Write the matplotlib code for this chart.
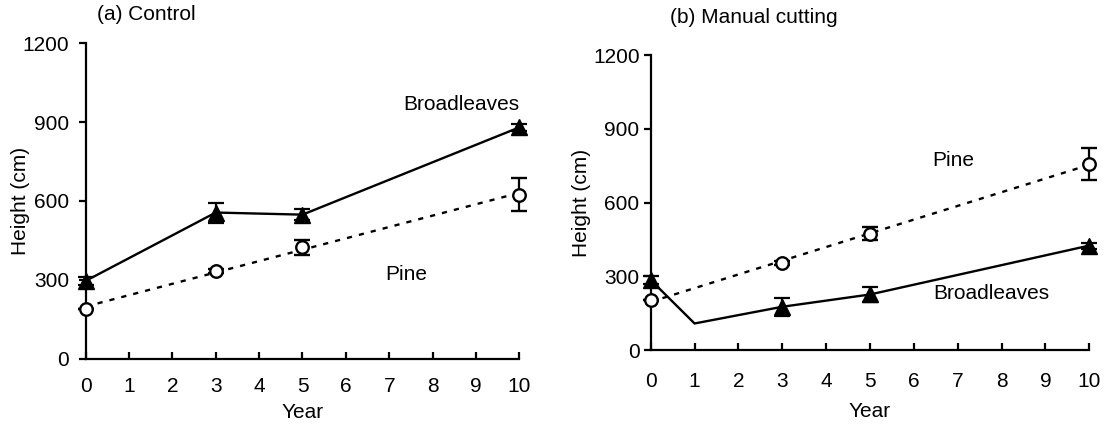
import matplotlib
matplotlib.use("Agg")
import matplotlib.pyplot as plt
import numpy as np

plt.rcParams['font.family'] = ['Liberation Sans', 'DejaVu Sans']
plt.rcParams['font.size'] = 15

# (a) Control
a_years = [0, 3, 5, 10]
a_broad = [296, 556, 548, 880]
a_broad_err = [15, 38, 22, 12]
a_pine = [189, 335, 424, 624]
a_pine_err = [0, 8, 28, 62]

# (b) Manual cutting
b_broad_years = [0, 1, 3, 5, 10]
b_broad = [285, 108, 176, 226, 425]
b_broad_err = [16, 0, 37, 30, 12]
b_pine_years = [0, 3, 5, 10]
b_pine = [203, 354, 474, 757]
b_pine_err = [0, 8, 27, 64]

xticks = list(range(11))
yticks = [0, 300, 600, 900, 1200]

fig = plt.figure(figsize=(11.04, 4.24), dpi=100)
ax_a = fig.add_axes([0.0776, 0.154, 0.3928, 0.744])
ax_b = fig.add_axes([0.5894, 0.1745, 0.3973, 0.6955])


def style_axis(ax, xpad, ypad):
    ax.set_xlim(0, 10)
    ax.set_ylim(0, 1200)
    ax.set_xticks(xticks)
    ax.set_yticks(yticks)
    for s in ['top', 'right']:
        ax.spines[s].set_visible(False)
    for s in ['left', 'bottom']:
        ax.spines[s].set_linewidth(1.6)
    ax.tick_params(axis='x', direction='in', length=5, width=1.6, pad=xpad, labelsize=15)
    ax.tick_params(axis='y', direction='out', length=5, width=1.6, pad=ypad, labelsize=15)


def draw_pine(ax, years, vals, errs):
    # dotted trend line through the pine means
    k, b = np.polyfit(years, vals, 1)
    xs = np.array([0, 10])
    ax.plot(xs, k * xs + b, color='black', lw=1.7, ls=(0, (2.2, 3)), clip_on=False, zorder=2)
    ax.errorbar(years, vals, yerr=errs, fmt='o', ms=9, mfc='white', mec='black', mew=1.7,
                ecolor='black', elinewidth=1.6, capsize=5.5, capthick=1.6, clip_on=False, zorder=3)


def draw_broad(ax, years, vals, errs, marked):
    ax.plot(years, vals, color='black', lw=1.7, clip_on=False, zorder=2)
    my = [y for y in years if y in marked]
    mv = [v for y, v in zip(years, vals) if y in marked]
    me = [e for y, e in zip(years, errs) if y in marked]
    ax.errorbar(my, mv, yerr=me, fmt='^', ms=11, mfc='black', mec='black',
                ecolor='black', elinewidth=1.6, capsize=5.5, capthick=1.6, clip_on=False, zorder=3)


# panel (a)
style_axis(ax_a, 13, 7)
draw_broad(ax_a, a_years, a_broad, a_broad_err, a_years)
draw_pine(ax_a, a_years, a_pine, a_pine_err)
ax_a.text(0.026, 1.09, '(a) Control', transform=ax_a.transAxes, ha='left', va='center')
ax_a.text(8.66, 966, 'Broadleaves', ha='center', va='center')
ax_a.text(7.4, 319, 'Pine', ha='center', va='center')
ax_a.set_ylabel('Height (cm)')
ax_a.set_xlabel('Year')
ax_a.yaxis.set_label_coords(-0.128, 0.5)
ax_a.xaxis.set_label_coords(0.5, -0.14)

# panel (b)
style_axis(ax_b, 16, 3)
draw_broad(ax_b, b_broad_years, b_broad, b_broad_err, b_pine_years)
draw_pine(ax_b, b_pine_years, b_pine, b_pine_err)
ax_b.text(0.044, 1.129, '(b) Manual cutting', transform=ax_b.transAxes, ha='left', va='center')
ax_b.text(6.9, 773, 'Pine', ha='center', va='center')
ax_b.text(7.77, 228, 'Broadleaves', ha='center', va='center')
ax_b.set_ylabel('Height (cm)')
ax_b.set_xlabel('Year')
ax_b.yaxis.set_label_coords(-0.136, 0.5)
ax_b.xaxis.set_label_coords(0.5, -0.175)

fig.savefig('out.png', dpi=100)
